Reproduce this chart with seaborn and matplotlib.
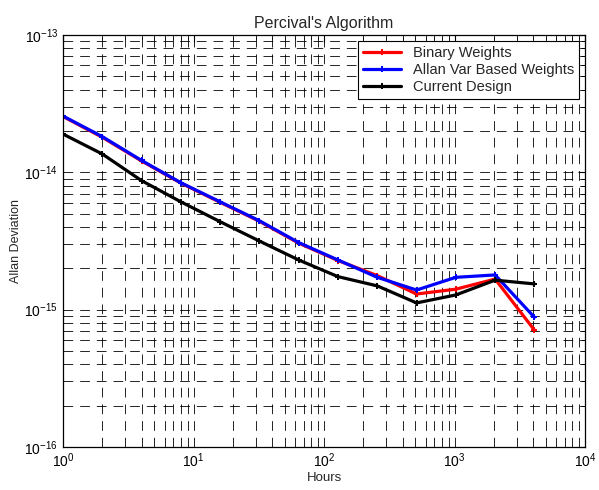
import matplotlib
matplotlib.use("Agg")
import matplotlib.pyplot as plt
import seaborn as sns
import pandas as pd
import numpy as np
from matplotlib.ticker import FixedLocator, NullFormatter

sns.set_style("white")
plt.rcParams['font.family'] = ['Liberation Sans', 'DejaVu Sans']
plt.rcParams['mathtext.fontset'] = 'custom'
plt.rcParams['mathtext.rm'] = 'Liberation Sans'
plt.rcParams['lines.scale_dashes'] = False

hours = [1, 2, 4, 8, 16, 32, 64, 128, 256, 512, 1024, 2048, 4096]
binary_weights = [2.55e-14, 1.80e-14, 1.21e-14, 8.35e-15, 6.05e-15, 4.40e-15, 3.05e-15,
                  2.28e-15, 1.77e-15, 1.30e-15, 1.41e-15, 1.67e-15, 7.1e-16]
allan_var_weights = [2.57e-14, 1.82e-14, 1.22e-14, 8.4e-15, 6.1e-15, 4.44e-15, 3.08e-15,
                     2.30e-15, 1.72e-15, 1.39e-15, 1.72e-15, 1.79e-15, 8.8e-16]
current_design = [1.90e-14, 1.36e-14, 8.7e-15, 6.1e-15, 4.37e-15, 3.16e-15, 2.30e-15,
                  1.74e-15, 1.49e-15, 1.12e-15, 1.28e-15, 1.64e-15, 1.54e-15]
series_names = ["Binary Weights", "Allan Var Based Weights", "Current Design"]
series_colors = ["#ff0000", "#0000ff", "#000000"]
x_ticks = [1e0, 1e1, 1e2, 1e3, 1e4]
x_tick_labels = ["$10^{0}$", "$10^{1}$", "$10^{2}$", "$10^{3}$", "$10^{4}$"]
y_ticks = [1e-16, 1e-15, 1e-14, 1e-13]
y_tick_labels = ["$10^{-16}$", "$10^{-15}$", "$10^{-14}$", "$10^{-13}$"]

df = pd.concat([
    pd.DataFrame({"Hours": hours, "Dev": vals, "Series": name})
    for name, vals in zip(series_names, [binary_weights, allan_var_weights, current_design])
])

fig = plt.figure(figsize=(5.99, 4.90), dpi=100)
ax = fig.add_axes([63/599, 1 - 447/490, 522/599, 412/490])

for name, col in zip(series_names, series_colors):
    sub = df[df["Series"] == name]
    sns.lineplot(data=sub, x="Hours", y="Dev", ax=ax, color=col, lw=2.3,
                 marker="P", markersize=5, markeredgewidth=0, label=name,
                 estimator=None, sort=False)

ax.set_xscale("log")
ax.set_yscale("log")
ax.set_xlim(1, 1e4)
ax.set_ylim(1e-16, 1e-13)

ax.set_xticks(x_ticks)
ax.set_xticklabels(x_tick_labels)
ax.set_yticks(y_ticks)
ax.set_yticklabels(y_tick_labels)
x_minor = [m * 10**d for d in range(0, 4) for m in range(2, 10)]
y_minor = [m * 10.0**d for d in range(-16, -13) for m in range(2, 10)]
ax.xaxis.set_minor_locator(FixedLocator(x_minor))
ax.yaxis.set_minor_locator(FixedLocator(y_minor))
ax.xaxis.set_minor_formatter(NullFormatter())
ax.yaxis.set_minor_formatter(NullFormatter())

ax.grid(True, which="both", color="black", linestyle=(0, (7, 5)), linewidth=0.6)
ax.set_axisbelow(True)

ax.tick_params(which="both", direction="in", top=True, right=True, labelsize=10, colors="black")
ax.tick_params(which="major", length=5, width=0.8)
ax.tick_params(which="minor", length=3, width=0.6)
for s in ax.spines.values():
    s.set_color("black")
    s.set_linewidth(0.9)

ax.set_title("Percival's Algorithm", fontsize=11.5, pad=5)
ax.set_xlabel("Hours", fontsize=9.5, labelpad=1)
ax.set_ylabel("Allan Deviation", fontsize=9, labelpad=2)

leg = ax.legend(loc="upper right", fontsize=10.5, frameon=True, fancybox=False,
                edgecolor="black", framealpha=1, borderaxespad=0.4,
                handlelength=2.6, labelspacing=0.2, borderpad=0.35)
leg.get_frame().set_linewidth(0.8)

fig.savefig("out.png", dpi=100, facecolor="white")
